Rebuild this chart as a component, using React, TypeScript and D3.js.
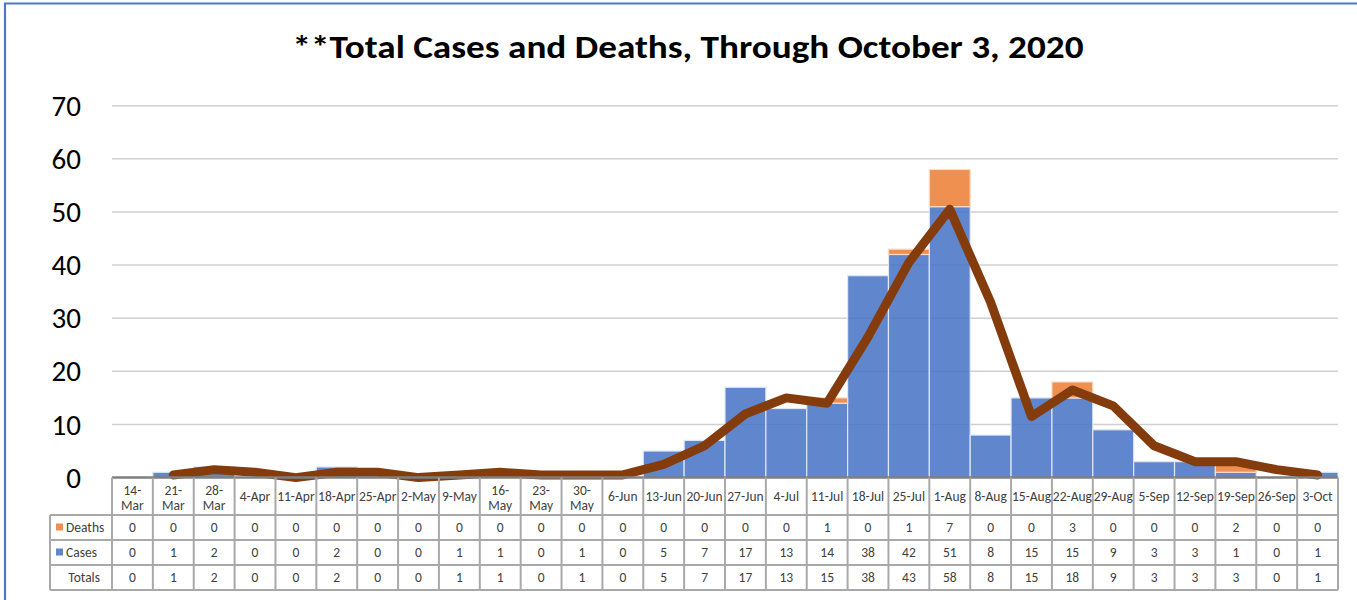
import React, { useEffect, useRef } from 'react';
import * as d3 from 'd3';

const categories = [
  '14-Mar', '21-Mar', '28-Mar', '4-Apr', '11-Apr', '18-Apr', '25-Apr', '2-May', '9-May', '16-May',
  '23-May', '30-May', '6-Jun', '13-Jun', '20-Jun', '27-Jun', '4-Jul', '11-Jul', '18-Jul', '25-Jul',
  '1-Aug', '8-Aug', '15-Aug', '22-Aug', '29-Aug', '5-Sep', '12-Sep', '19-Sep', '26-Sep', '3-Oct',
];
const wrappedLabels = ['14-Mar', '21-Mar', '28-Mar', '16-May', '23-May', '30-May'];

const deaths = [0, 0, 0, 0, 0, 0, 0, 0, 0, 0, 0, 0, 0, 0, 0, 0, 0, 1, 0, 1, 7, 0, 0, 3, 0, 0, 0, 2, 0, 0];
const cases = [0, 1, 2, 0, 0, 2, 0, 0, 1, 1, 0, 1, 0, 5, 7, 17, 13, 14, 38, 42, 51, 8, 15, 15, 9, 3, 3, 1, 0, 1];
const totals = [0, 1, 2, 0, 0, 2, 0, 0, 1, 1, 0, 1, 0, 5, 7, 17, 13, 15, 38, 43, 58, 8, 15, 18, 9, 3, 3, 3, 0, 1];

// 2-period moving average trendline (starts at 21-Mar)
const trend = [0.5, 1.5, 1, 0, 1, 1, 0, 0.5, 1, 0.5, 0.5, 0.5, 2.5, 6, 12, 15, 14, 26.5, 40.5, 50.5, 33, 11.5, 16.5, 13.5, 6, 3, 3, 1.5, 0.5];

const yTicks = [0, 10, 20, 30, 40, 50, 60, 70];

const FONT = 'Carlito, Lato, "Liberation Sans", sans-serif';

const App: React.FC = () => {
  const chartRef = useRef<SVGSVGElement>(null);

  useEffect(() => {
    if (!chartRef.current) return;
    d3.select(chartRef.current).selectAll('*').remove();

    const svg = d3.select(chartRef.current);
    const left = 112;
    const right = 1338;
    const top = 105.7;
    const bottom = 477.6;

    // Outer frame (cropped on right/bottom)
    svg.append('path')
      .attr('d', `M5,700 L5,3.5 L1400,3.5`)
      .attr('fill', 'none')
      .attr('stroke', '#4a78c8')
      .attr('stroke-width', 2.2);

    // Title
    svg.append('text')
      .attr('x', 688)
      .attr('y', 58)
      .attr('text-anchor', 'middle')
      .attr('font-family', FONT)
      .attr('font-weight', 'bold')
      .attr('font-size', '32px')
      .attr('textLength', 791)
      .attr('lengthAdjust', 'spacingAndGlyphs')
      .attr('fill', '#000')
      .text('**Total Cases and Deaths, Through October 3, 2020');

    const xScale = d3.scaleBand<string>()
      .domain(categories)
      .range([left, right])
      .padding(0);

    const yScale = d3.scaleLinear()
      .domain([0, 70])
      .range([bottom, top]);

    // Grid lines
    svg.selectAll('line.grid')
      .data(yTicks.filter(t => t > 0))
      .enter()
      .append('line')
      .attr('x1', left)
      .attr('x2', right)
      .attr('y1', d => yScale(d))
      .attr('y2', d => yScale(d))
      .attr('stroke', '#d0d0d0')
      .attr('stroke-width', 1.5);

    // Y labels
    svg.selectAll('text.y-label')
      .data(yTicks)
      .enter()
      .append('text')
      .attr('x', 81)
      .attr('y', d => yScale(d))
      .attr('dy', '0.35em')
      .attr('text-anchor', 'end')
      .attr('font-family', FONT)
      .attr('font-size', '29px')
      .attr('fill', '#000')
      .text(d => d);

    const bw = xScale.bandwidth();

    // Cases bars
    svg.selectAll('rect.cases')
      .data(cases)
      .enter()
      .append('rect')
      .attr('x', (_, i) => xScale(categories[i]) as number)
      .attr('y', d => yScale(d))
      .attr('width', bw)
      .attr('height', d => bottom - yScale(d))
      .attr('fill', '#4472C4')
      .attr('fill-opacity', 0.85)
      .attr('stroke', '#dfe6f4')
      .attr('stroke-width', d => (d > 0 ? 1.2 : 0));

    // Deaths bars (stacked)
    svg.selectAll('rect.deaths')
      .data(deaths)
      .enter()
      .append('rect')
      .attr('x', (_, i) => xScale(categories[i]) as number)
      .attr('y', (d, i) => yScale(cases[i] + d))
      .attr('width', bw)
      .attr('height', (d, i) => yScale(cases[i]) - yScale(cases[i] + d))
      .attr('fill', '#ED7D31')
      .attr('fill-opacity', 0.85)
      .attr('stroke', '#f8dcc8')
      .attr('stroke-width', d => (d > 0 ? 1.2 : 0));

    // Trend line
    const line = d3.line<number>()
      .x((_, i) => (xScale(categories[i + 1]) as number) + bw / 2)
      .y(d => yScale(d));

    svg.append('path')
      .datum(trend)
      .attr('d', line)
      .attr('fill', 'none')
      .attr('stroke', '#843C0C')
      .attr('stroke-width', 9)
      .attr('stroke-linejoin', 'round')
      .attr('stroke-linecap', 'round');

    // Data table
    const rowTops = [bottom, 515, 540, 565, 590];
    const tableLeft = 50;
    const gridColor = '#a9a9a9';
    const txtColor = '#404040';
    const tFont = '13.5px';

    const tbl = svg.append('g');

    // horizontal lines
    tbl.append('line')
      .attr('x1', left).attr('x2', right)
      .attr('y1', bottom).attr('y2', bottom)
      .attr('stroke', '#7f7f7f').attr('stroke-width', 2.5);
    rowTops.slice(1).forEach(y => {
      tbl.append('line')
        .attr('x1', tableLeft).attr('x2', right)
        .attr('y1', y).attr('y2', y)
        .attr('stroke', gridColor).attr('stroke-width', 2);
    });

    // vertical lines
    const boundaries = categories.map(c => xScale(c) as number).concat([right]);
    boundaries.forEach(x => {
      tbl.append('line')
        .attr('x1', x).attr('x2', x)
        .attr('y1', bottom).attr('y2', rowTops[4])
        .attr('stroke', gridColor).attr('stroke-width', 2);
    });
    tbl.append('line')
      .attr('x1', tableLeft).attr('x2', tableLeft)
      .attr('y1', rowTops[1]).attr('y2', rowTops[4])
      .attr('stroke', gridColor).attr('stroke-width', 2);

    // header labels
    categories.forEach(c => {
      const cx = (xScale(c) as number) + bw / 2;
      const t = tbl.append('text')
        .attr('text-anchor', 'middle')
        .attr('font-family', FONT)
        .attr('font-size', tFont)
        .attr('fill', txtColor);
      if (wrappedLabels.includes(c)) {
        const parts = c.split('-');
        t.append('tspan').attr('x', cx).attr('y', 495).text(parts[0] + '-');
        t.append('tspan').attr('x', cx).attr('y', 510).text(parts[1]);
      } else {
        t.attr('x', cx).attr('y', 501).text(c);
      }
    });

    // data rows
    const rows = [deaths, cases, totals];
    rows.forEach((vals, r) => {
      const cy = (rowTops[r + 1] + rowTops[r + 2]) / 2;
      tbl.selectAll(null)
        .data(vals)
        .enter()
        .append('text')
        .attr('x', (_, i) => (xScale(categories[i]) as number) + bw / 2)
        .attr('y', cy)
        .attr('dy', '0.35em')
        .attr('text-anchor', 'middle')
        .attr('font-family', FONT)
        .attr('font-size', tFont)
        .attr('fill', txtColor)
        .text(d => d);
    });

    // row headers with legend keys
    const keys = [
      { label: 'Deaths', color: '#ED7D31' },
      { label: 'Cases', color: '#4472C4' },
    ];
    keys.forEach((k, r) => {
      const cy = (rowTops[r + 1] + rowTops[r + 2]) / 2;
      tbl.append('rect')
        .attr('x', 56).attr('y', cy - 4)
        .attr('width', 7).attr('height', 7)
        .attr('fill', k.color)
        .attr('fill-opacity', 0.85);
      tbl.append('text')
        .attr('x', 66).attr('y', cy)
        .attr('dy', '0.35em')
        .attr('font-family', FONT)
        .attr('font-size', tFont)
        .attr('fill', txtColor)
        .text(k.label);
    });
    tbl.append('text')
      .attr('x', 100).attr('y', (rowTops[3] + rowTops[4]) / 2)
      .attr('dy', '0.35em')
      .attr('text-anchor', 'end')
      .attr('font-family', FONT)
      .attr('font-size', tFont)
      .attr('fill', txtColor)
      .text('Totals');
  }, []);

  return (
    <div style={{ position: 'absolute', left: 0, top: 0, width: 1357, height: 600, background: '#fff' }}>
      <svg ref={chartRef} width={1357} height={600}></svg>
    </div>
  );
};

export default App;
